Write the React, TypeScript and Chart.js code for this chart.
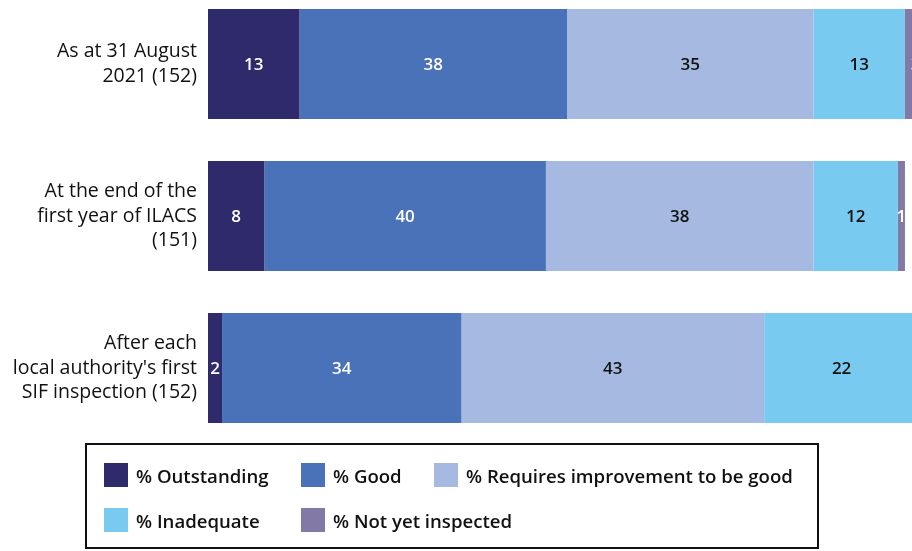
import React, { useEffect, useRef } from "react";
import { Chart, registerables } from "chart.js";

Chart.register(...registerables);

const categories: string[][] = [
  ["As at 31 August", "2021 (152)"],
  ["At the end of the", "first year of ILACS", "(151)"],
  ["After each", "local authority's first", "SIF inspection (152)"],
];
const outstanding = [13, 8, 2];
const good = [38, 40, 34];
const requiresImprovement = [35, 38, 43];
const inadequate = [13, 12, 22];
const notYetInspected = [3, 1, 0];
const axisMin = 0;
const axisMax = 100;

const seriesNames = [
  "% Outstanding",
  "% Good",
  "% Requires improvement to be good",
  "% Inadequate",
  "% Not yet inspected",
];
const seriesValues = [outstanding, good, requiresImprovement, inadequate, notYetInspected];
const seriesColors = ["#2e2a6b", "#4a72b8", "#a6b9e0", "#79caf0", "#8279a6"];
const labelColors = ["#ffffff", "#ffffff", "#111111", "#111111", "#ffffff"];

const FONT = "'Open Sans', 'Noto Sans', sans-serif";

const valueLabelPlugin = {
  id: "valueLabels",
  afterDatasetsDraw(chart: any) {
    const ctx = chart.ctx;
    ctx.save();
    ctx.font = `600 17px ${FONT}`;
    ctx.textAlign = "center";
    ctx.textBaseline = "middle";
    chart.data.datasets.forEach((ds: any, di: number) => {
      const meta = chart.getDatasetMeta(di);
      meta.data.forEach((bar: any, i: number) => {
        const v = ds.data[i];
        if (!v) return;
        const cx = (bar.x + bar.base) / 2;
        ctx.fillStyle = labelColors[di];
        ctx.fillText(String(v), cx, bar.y + 1);
      });
    });
    ctx.restore();
  },
};

export default function App() {
  const canvasRef = useRef<HTMLCanvasElement | null>(null);

  useEffect(() => {
    if (!canvasRef.current) return;
    const chart = new Chart(canvasRef.current, {
      type: "bar",
      data: {
        labels: categories as any,
        datasets: seriesNames.map((name, i) => ({
          label: name,
          data: seriesValues[i],
          backgroundColor: seriesColors[i],
          borderWidth: 0,
          barPercentage: 110 / 152,
          categoryPercentage: 1,
        })),
      },
      options: {
        indexAxis: "y",
        animation: false,
        responsive: false,
        maintainAspectRatio: false,
        layout: { padding: 0 },
        plugins: {
          legend: { display: false },
          tooltip: { enabled: false },
          title: { display: false },
        },
        scales: {
          x: {
            stacked: true,
            min: axisMin,
            max: axisMax,
            display: false,
            grid: { display: false },
          },
          y: {
            stacked: true,
            grid: { display: false, drawTicks: false },
            border: { display: false },
            ticks: {
              padding: 11,
              color: "#111111",
              font: { family: FONT, size: 19.5, lineHeight: 1.26 },
            },
            afterFit(scale: any) {
              scale.width = 208;
              scale.paddingTop = 0;
              scale.paddingBottom = 0;
            },
          },
        },
      } as any,
      plugins: [valueLabelPlugin],
    });
    return () => chart.destroy();
  }, []);

  return (
    <div
      style={{
        position: "fixed",
        left: 0,
        top: 0,
        width: 912,
        height: 551,
        background: "#ffffff",
        overflow: "hidden",
        fontFamily: FONT,
      }}
    >
      <div style={{ position: "absolute", left: 0, top: -12, width: 912, height: 456 }}>
        <canvas ref={canvasRef} width={912} height={456} style={{ width: 912, height: 456 }} />
      </div>
      <div
        style={{
          position: "absolute",
          left: 85,
          top: 443,
          width: 734,
          height: 106,
          boxSizing: "border-box",
          border: "2.5px solid #111",
          paddingLeft: 17,
          paddingTop: 18,
          display: "grid",
          gridTemplateColumns: "197px 133px auto",
          gridAutoRows: "24px",
          rowGap: 21,
        }}
      >
        {seriesNames.map((name, i) => (
          <div key={name} style={{ display: "flex", alignItems: "center", whiteSpace: "nowrap" }}>
            <span
              style={{
                display: "inline-block",
                width: 24,
                height: 24,
                background: seriesColors[i],
                marginRight: 8,
                flex: "none",
              }}
            />
            <span style={{ fontSize: 18.6, fontWeight: 600, color: "#111111" }}>{name}</span>
          </div>
        ))}
      </div>
    </div>
  );
}
